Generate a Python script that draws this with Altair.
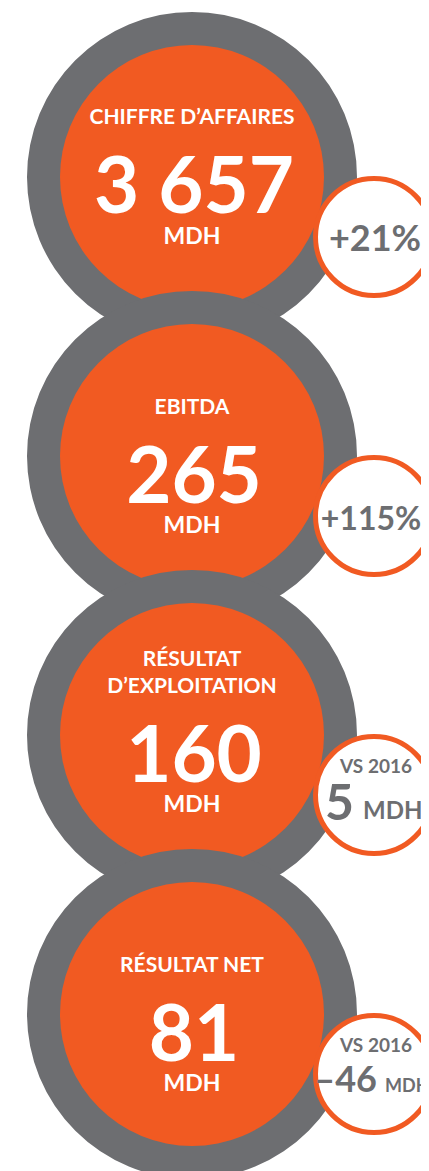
import altair as alt
import pandas as pd

# ---- data ----
titles = [["CHIFFRE D’AFFAIRES"], ["EBITDA"], ["RÉSULTAT", "D’EXPLOITATION"], ["RÉSULTAT NET"]]
values = ["3 657", "265", "160", "81"]
unit = "MDH"
badge_main = ["+21%", "+115%", "5", "–46"]
badge_top = ["", "", "VS 2016", "VS 2016"]
badge_unit = ["", "", "MDH", "MDH"]

ORANGE = "#F15A22"
GRAY = "#6D6E71"
FONT = "Lato"

# ---- layout ----
W, H = 413, 1163
CX, CY0, STEP = 192, 177, 279
R_GRAY, R_OR = 165, 132
BX, B_OFF, B_R, B_SW = 374, 60, 58.5, 5

disks = []
texts_c = []
texts_l = []
texts_r = []
badges = []
for i in range(4):
    cy = CY0 + i * STEP
    z = (4 - i) * 2
    disks.append(dict(x=CX, y=cy, s=(2 * R_GRAY) ** 2, c=GRAY, o=-z))
    disks.append(dict(x=CX, y=cy, s=(2 * R_OR) ** 2, c=ORANGE, o=-z + 1))
    if i == 0:
        t_off, v_off, u_off = -53, 36, 67
    else:
        t_off, v_off, u_off = -42, 47, 77
    lines = titles[i]
    for k, ln in enumerate(lines):
        yy = cy + t_off - (len(lines) - 1 - k) * 27
        texts_c.append(dict(x=CX, y=yy, t=ln, fs=21, c="white"))
    texts_c.append(dict(x=CX + 2, y=cy + v_off, t=values[i], fs=78, c="white"))
    texts_c.append(dict(x=CX, y=cy + u_off, t=unit, fs=23, c="white"))

    by = cy + B_OFF
    badges.append(dict(x=BX, y=by, s=(2 * B_R) ** 2))
    if badge_top[i] == "":
        if i == 0:
            texts_c.append(dict(x=BX + 1, y=by + 14, t=badge_main[i], fs=36, c=GRAY))
        else:
            texts_c.append(dict(x=BX - 3, y=by + 14, t=badge_main[i], fs=32, c=GRAY))
    else:
        texts_c.append(dict(x=BX + 2, y=by - 22, t=badge_top[i], fs=19, c=GRAY))
        if i == 2:
            texts_r.append(dict(x=BX - 20, y=by + 25, t=badge_main[i], fs=50, c=GRAY))
            texts_l.append(dict(x=BX - 11, y=by + 24, t=badge_unit[i], fs=24, c=GRAY))
        else:
            texts_r.append(dict(x=BX + 3, y=by + 18, t=badge_main[i], fs=36, c=GRAY))
            texts_l.append(dict(x=BX + 11, y=by + 18, t=badge_unit[i], fs=18, c=GRAY))

xs = alt.Scale(domain=[8, 8 + W], zero=False, nice=False)
ys = alt.Scale(domain=[8, 8 + H], zero=False, nice=False, reverse=True)
X = alt.X("x:Q", scale=xs, axis=None)
Y = alt.Y("y:Q", scale=ys, axis=None)

disk_layer = alt.Chart(pd.DataFrame(disks)).mark_circle(opacity=1).encode(
    x=X, y=Y,
    size=alt.Size("s:Q", scale=None, legend=None),
    color=alt.Color("c:N", scale=None, legend=None),
    order=alt.Order("o:Q"),
)

badge_layer = alt.Chart(pd.DataFrame(badges)).mark_circle(
    opacity=1, fill="white", stroke=ORANGE, strokeWidth=B_SW
).encode(x=X, y=Y, size=alt.Size("s:Q", scale=None, legend=None))


def text_layer(rows, align):
    return alt.Chart(pd.DataFrame(rows)).mark_text(
        font=FONT, fontWeight="bold", align=align, baseline="alphabetic"
    ).encode(
        x=X, y=Y, text="t:N",
        size=alt.Size("fs:Q", scale=None, legend=None),
        color=alt.Color("c:N", scale=None, legend=None),
    )


chart = alt.layer(
    disk_layer, badge_layer,
    text_layer(texts_c, "center"),
    text_layer(texts_l, "left"),
    text_layer(texts_r, "right"),
).properties(
    width=W, height=H, autosize=alt.AutoSizeParams(type="none"), padding=0,
    background="white",
).configure_view(stroke=None)

chart.save("out.html", embed_options={"renderer": "svg", "actions": False})
